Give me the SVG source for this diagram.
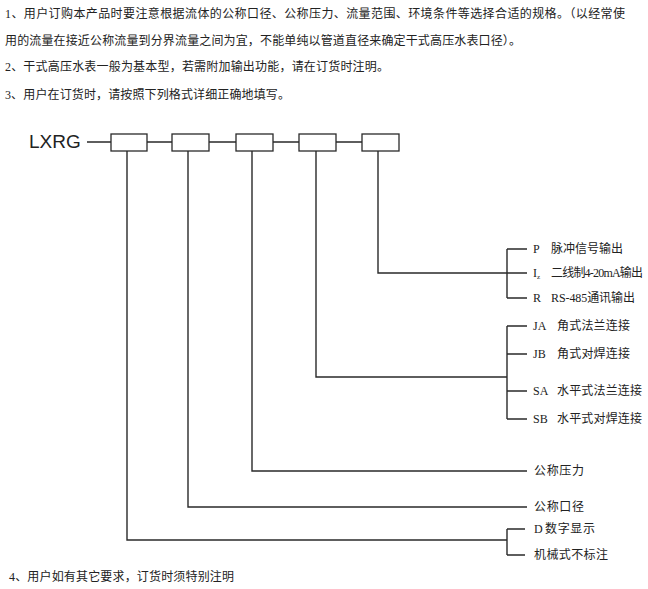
<svg xmlns="http://www.w3.org/2000/svg" width="648" height="589" viewBox="0 0 648 589">
<style>
.t{font-family:"Liberation Serif","Noto Sans CJK SC",serif;font-size:12px;fill:#222}
.lx{font-family:"Liberation Sans",Arial,sans-serif;font-size:19px;fill:#222}
.ln{stroke:#2a2a2a;stroke-width:1.4;fill:none}
.bx{stroke:#2a2a2a;stroke-width:1.3;fill:#fff}
</style>
<rect width="648" height="589" fill="#fff"/>
<g id="notes">
<text class="t" x="5" y="18" textLength="620" lengthAdjust="spacing">1、用户订购本产品时要注意根据流体的公称口径、公称压力、流量范围、环境条件等选择合适的规格。（以经常使</text>
<text class="t" x="5" y="45" textLength="516" lengthAdjust="spacing">用的流量在接近公称流量到分界流量之间为宜，不能单纯以管道直径来确定干式高压水表口径）。</text>
<text class="t" x="5" y="71" textLength="384" lengthAdjust="spacing">2、干式高压水表一般为基本型，若需附加输出功能，请在订货时注明。</text>
<text class="t" x="5" y="99" textLength="285" lengthAdjust="spacing">3、用户在订货时，请按照下列格式详细正确地填写。</text>
<text class="t" x="9" y="581" textLength="225" lengthAdjust="spacing">4、用户如有其它要求，订货时须特别注明</text>
</g>
<g id="model">
<text class="lx" x="29" y="148">LXRG</text>
<rect class="bx" x="111" y="134" width="36" height="17"/>
<rect class="bx" x="172" y="134" width="37" height="17"/>
<rect class="bx" x="236" y="134" width="37" height="17"/>
<rect class="bx" x="299" y="134" width="37" height="17"/>
<rect class="bx" x="362" y="134" width="37" height="17"/>
</g>
<g id="connectors">
<path class="ln" d="M87 142H111M147 142H172M209 142H236M273 142H299M336 142H362"/>
<path class="ln" d="M378 151V273H507M507 249V298M507 249H527M507 273H527M507 298H527"/>
<path class="ln" d="M316 151V377H507M507 326V419M507 326H527M507 354H527M507 391H527M507 419H527"/>
<path class="ln" d="M252 151V471H527"/>
<path class="ln" d="M188 151V507H527"/>
<path class="ln" d="M127 151V540H507M507 529V555M507 529H525M507 555H525"/>
</g>
<g id="output-options">
<text class="t" x="533" y="253">P</text><text class="t" x="551" y="253" textLength="72" lengthAdjust="spacing">脉冲信号输出</text>
<text class="t" x="533" y="277">I<tspan font-size="7" dy="2">z</tspan></text><text class="t" x="551" y="277" font-size="11" textLength="92" lengthAdjust="spacing">二线制4-20mA输出</text>
<text class="t" x="533" y="302">R</text><text class="t" x="551" y="302" textLength="84" lengthAdjust="spacing">RS-485通讯输出</text>
</g>
<g id="connection-options">
<text class="t" x="533" y="330">JA</text><text class="t" x="557" y="330" textLength="73" lengthAdjust="spacing">角式法兰连接</text>
<text class="t" x="533" y="358">JB</text><text class="t" x="557" y="358" textLength="73" lengthAdjust="spacing">角式对焊连接</text>
<text class="t" x="533" y="395">SA</text><text class="t" x="557" y="395" textLength="85" lengthAdjust="spacing">水平式法兰连接</text>
<text class="t" x="533" y="423">SB</text><text class="t" x="557" y="423" textLength="85" lengthAdjust="spacing">水平式对焊连接</text>
</g>
<g id="pressure"><text class="t" x="534" y="475" textLength="50" lengthAdjust="spacing">公称压力</text></g>
<g id="diameter"><text class="t" x="534" y="511" textLength="50" lengthAdjust="spacing">公称口径</text></g>
<g id="display-options">
<text class="t" x="534" y="533">D</text><text class="t" x="545" y="533" textLength="50" lengthAdjust="spacing">数字显示</text>
<text class="t" x="534" y="559" textLength="74" lengthAdjust="spacing">机械式不标注</text>
</g>
</svg>
